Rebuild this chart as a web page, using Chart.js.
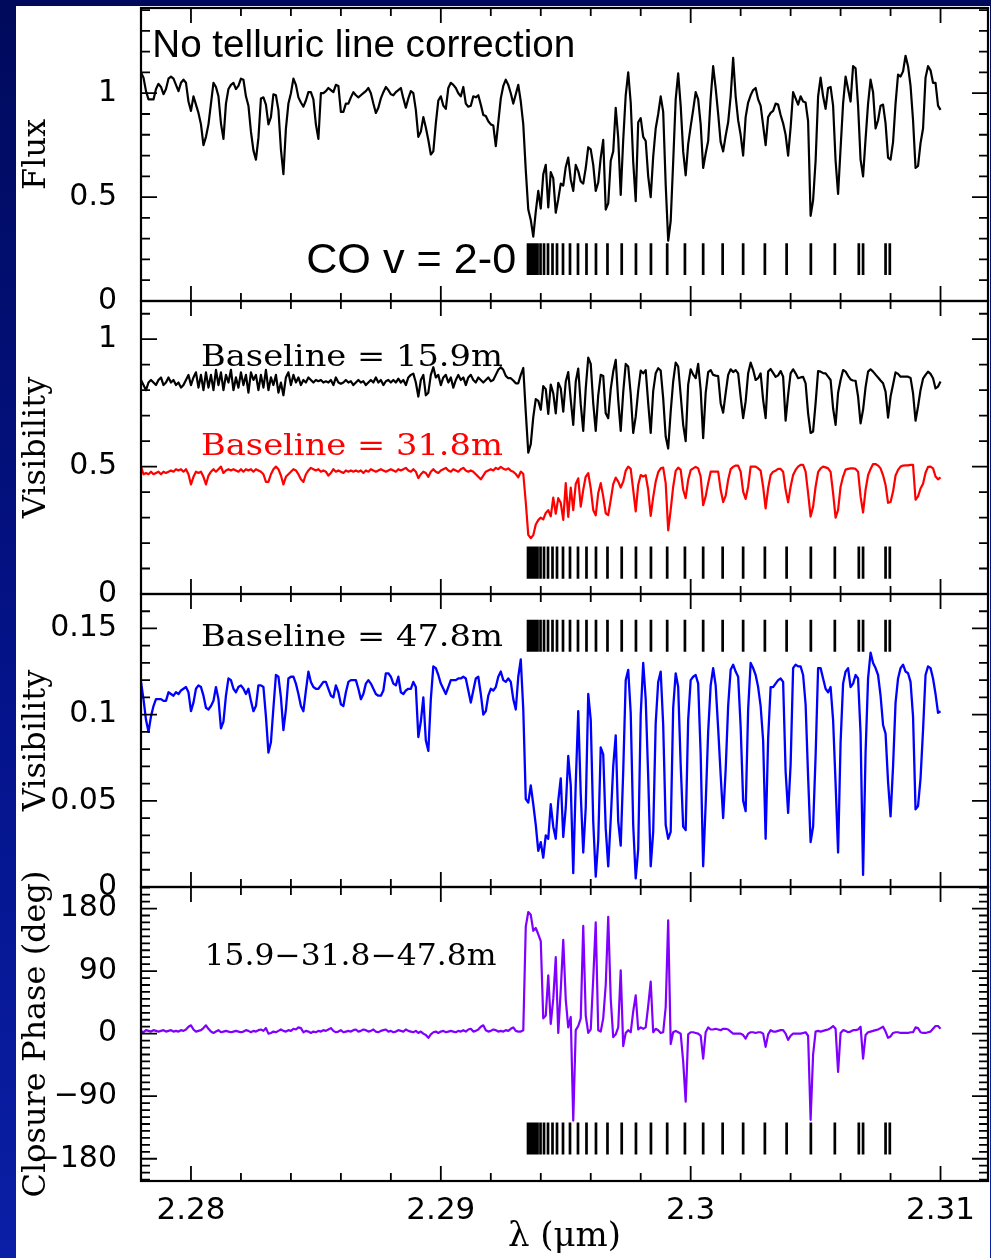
<!DOCTYPE html>
<html>
<head>
<meta charset="utf-8">
<script src="https://cdn.jsdelivr.net/npm/chart.js@4.4.0/dist/chart.umd.min.js"></script>
<style>
html,body{margin:0;padding:0;}
body{width:991px;height:1258px;overflow:hidden;position:relative;background:linear-gradient(180deg,#000a5c 0%,#04138a 55%,#0a1fa6 100%);}
#paper{position:absolute;left:16px;top:6px;width:974px;height:1252px;background:#ffffff;}
canvas{position:absolute;left:16px;top:6px;}
</style>
</head>
<body>
<div id="paper"></div>
<canvas id="c1" width="974" height="1252"></canvas>
<canvas id="c2" width="974" height="1252"></canvas>
<canvas id="c3" width="974" height="1252"></canvas>
<canvas id="c4" width="974" height="1252"></canvas>
<script>
// ---------------- data ----------------
const wavelengths = [
2.2780,2.2781,2.2782,2.2783,2.2784,2.2785,2.2786,2.2787,2.2788,2.2789,
2.2790,2.2791,2.2792,2.2793,2.2794,2.2795,2.2796,2.2797,2.2798,2.2799,
2.2800,2.2801,2.2802,2.2803,2.2804,2.2805,2.2806,2.2807,2.2808,2.2809,
2.2810,2.2811,2.2812,2.2813,2.2814,2.2815,2.2816,2.2817,2.2818,2.2819,
2.2820,2.2821,2.2822,2.2823,2.2824,2.2825,2.2826,2.2827,2.2828,2.2829,
2.2830,2.2831,2.2832,2.2833,2.2834,2.2835,2.2836,2.2837,2.2838,2.2839,
2.2840,2.2841,2.2842,2.2843,2.2844,2.2845,2.2846,2.2847,2.2848,2.2849,
2.2850,2.2851,2.2852,2.2853,2.2854,2.2855,2.2856,2.2857,2.2858,2.2859,
2.2860,2.2861,2.2862,2.2863,2.2864,2.2865,2.2866,2.2867,2.2868,2.2869,
2.2870,2.2871,2.2872,2.2873,2.2874,2.2875,2.2876,2.2877,2.2878,2.2879,
2.2880,2.2881,2.2882,2.2883,2.2884,2.2885,2.2886,2.2887,2.2888,2.2889,
2.2890,2.2891,2.2892,2.2893,2.2894,2.2895,2.2896,2.2897,2.2898,2.2899,
2.2900,2.2901,2.2902,2.2903,2.2904,2.2905,2.2906,2.2907,2.2908,2.2909,
2.2910,2.2911,2.2912,2.2913,2.2914,2.2915,2.2916,2.2917,2.2918,2.2919,
2.2920,2.2921,2.2922,2.2923,2.2924,2.2925,2.2926,2.2927,2.2928,2.2929,
2.2930,2.2931,2.2932,2.2933,2.2934,2.2935,2.2936,2.2937,2.2938,2.2939,
2.2940,2.2941,2.2942,2.2943,2.2944,2.2945,2.2946,2.2947,2.2948,2.2949,
2.2950,2.2951,2.2952,2.2953,2.2954,2.2955,2.2956,2.2957,2.2958,2.2959,
2.2960,2.2961,2.2962,2.2963,2.2964,2.2965,2.2966,2.2967,2.2968,2.2969,
2.2970,2.2971,2.2972,2.2973,2.2974,2.2975,2.2976,2.2977,2.2978,2.2979,
2.2980,2.2981,2.2982,2.2983,2.2984,2.2985,2.2986,2.2987,2.2988,2.2989,
2.2990,2.2991,2.2992,2.2993,2.2994,2.2995,2.2996,2.2997,2.2998,2.2999,
2.3000,2.3001,2.3002,2.3003,2.3004,2.3005,2.3006,2.3007,2.3008,2.3009,
2.3010,2.3011,2.3012,2.3013,2.3014,2.3015,2.3016,2.3017,2.3018,2.3019,
2.3020,2.3021,2.3022,2.3023,2.3024,2.3025,2.3026,2.3027,2.3028,2.3029,
2.3030,2.3031,2.3032,2.3033,2.3034,2.3035,2.3036,2.3037,2.3038,2.3039,
2.3040,2.3041,2.3042,2.3043,2.3044,2.3045,2.3046,2.3047,2.3048,2.3049,
2.3050,2.3051,2.3052,2.3053,2.3054,2.3055,2.3056,2.3057,2.3058,2.3059,
2.3060,2.3061,2.3062,2.3063,2.3064,2.3065,2.3066,2.3067,2.3068,2.3069,
2.3070,2.3071,2.3072,2.3073,2.3074,2.3075,2.3076,2.3077,2.3078,2.3079,
2.3080,2.3081,2.3082,2.3083,2.3084,2.3085,2.3086,2.3087,2.3088,2.3089,
2.3090,2.3091,2.3092,2.3093,2.3094,2.3095,2.3096,2.3097,2.3098,2.3099,
2.3100];

const flux = [
1.10,1.075,1.01,0.97,0.97,0.97,1.02,1.045,1.03,0.995,
1.02,1.07,1.08,1.07,1.04,1.01,1.05,1.065,1.05,0.96,
0.915,0.985,0.945,0.905,0.85,0.75,0.79,0.85,0.95,1.05,
1.03,0.985,0.855,0.78,0.95,1.02,1.04,1.05,1.02,1.035,
1.07,1.065,0.985,0.94,0.815,0.725,0.68,0.785,0.975,0.98,
0.945,0.85,0.885,0.995,0.99,0.92,0.73,0.61,0.83,0.95,
1.0,1.07,1.04,0.98,0.955,0.935,0.965,1.005,1.005,0.97,
0.85,0.78,1.0,1.0,1.01,1.025,1.015,1.005,1.04,1.035,
0.91,0.91,0.95,0.95,0.98,1.005,0.99,0.98,0.99,1.0,
1.01,1.025,1.0,0.95,0.905,0.93,0.975,1.005,1.03,1.015,
0.995,0.99,1.005,1.015,1.025,0.975,0.93,0.975,1.01,1.0,
0.92,0.79,0.815,0.885,0.835,0.775,0.705,0.72,0.855,0.965,
0.985,0.94,0.925,1.025,1.05,1.04,1.025,1.0,0.985,1.03,
0.95,0.935,0.94,0.985,0.98,0.99,0.945,0.895,0.89,0.865,
0.85,0.845,0.745,0.86,0.975,1.035,1.065,1.04,1.0,0.95,
0.995,1.04,0.96,0.85,0.63,0.44,0.39,0.31,0.43,0.53,
0.445,0.61,0.655,0.45,0.62,0.59,0.425,0.49,0.565,0.555,
0.645,0.69,0.585,0.53,0.655,0.625,0.575,0.565,0.64,0.74,
0.73,0.655,0.53,0.57,0.69,0.775,0.44,0.47,0.675,0.72,
0.93,0.785,0.51,0.775,0.99,1.10,0.955,0.67,0.48,0.86,
0.88,0.79,0.77,0.60,0.50,0.695,0.83,0.90,0.985,0.91,
0.56,0.29,0.385,0.67,0.97,1.095,0.94,0.72,0.605,0.755,
0.84,0.92,1.005,0.97,0.85,0.64,0.71,0.77,0.975,1.13,
1.025,0.90,0.765,0.72,0.795,0.86,0.985,1.17,0.985,0.87,
0.80,0.70,0.885,0.955,0.99,1.015,1.025,0.97,0.94,0.845,
0.75,0.885,0.905,0.915,0.95,0.945,0.895,0.855,0.80,0.70,
0.835,1.005,0.975,0.945,0.985,0.96,0.955,0.865,0.41,0.485,
0.675,0.985,1.075,0.985,0.925,1.025,1.03,0.94,0.675,0.515,
0.735,0.95,1.08,1.02,0.96,1.13,1.12,0.94,0.68,0.60,
0.78,0.95,1.065,1.005,0.83,0.87,0.94,0.945,0.855,0.69,
0.68,0.765,0.95,1.09,1.08,1.105,1.18,1.13,1.035,0.87,
0.64,0.65,0.76,0.83,1.075,1.13,1.11,1.05,1.05,0.94,
0.92];

const vis159 = [
0.84,0.82,0.80,0.83,0.84,0.83,0.82,0.84,0.85,0.82,
0.83,0.85,0.83,0.84,0.82,0.83,0.81,0.82,0.84,0.86,
0.82,0.85,0.87,0.81,0.86,0.80,0.87,0.81,0.86,0.80,
0.88,0.82,0.87,0.80,0.86,0.83,0.88,0.80,0.85,0.81,
0.87,0.82,0.86,0.79,0.87,0.84,0.86,0.80,0.86,0.81,
0.88,0.80,0.85,0.82,0.86,0.79,0.83,0.78,0.85,0.87,
0.82,0.86,0.83,0.85,0.82,0.84,0.83,0.85,0.84,0.83,
0.84,0.835,0.84,0.83,0.835,0.83,0.84,0.82,0.85,0.83,
0.825,0.83,0.84,0.83,0.835,0.82,0.83,0.84,0.83,0.835,
0.82,0.83,0.84,0.83,0.85,0.83,0.84,0.82,0.835,0.84,
0.83,0.84,0.83,0.845,0.83,0.84,0.82,0.85,0.86,0.865,
0.83,0.775,0.84,0.86,0.78,0.79,0.86,0.89,0.85,0.86,
0.82,0.85,0.86,0.83,0.85,0.81,0.84,0.86,0.84,0.85,
0.82,0.85,0.86,0.84,0.83,0.85,0.84,0.83,0.84,0.85,
0.835,0.84,0.86,0.88,0.89,0.88,0.856,0.847,0.847,0.838,
0.827,0.827,0.86,0.887,0.714,0.555,0.588,0.694,0.765,0.758,
0.723,0.816,0.804,0.707,0.822,0.788,0.709,0.829,0.807,0.716,
0.834,0.871,0.762,0.664,0.834,0.885,0.745,0.64,0.807,0.928,
0.903,0.749,0.64,0.78,0.86,0.856,0.709,0.69,0.804,0.873,
0.919,0.762,0.64,0.792,0.903,0.893,0.785,0.632,0.696,0.798,
0.877,0.866,0.879,0.749,0.632,0.796,0.866,0.886,0.877,0.768,
0.618,0.571,0.716,0.834,0.908,0.893,0.781,0.664,0.60,0.822,
0.882,0.861,0.847,0.903,0.801,0.612,0.788,0.871,0.879,0.86,
0.857,0.855,0.749,0.712,0.788,0.86,0.882,0.871,0.879,0.866,
0.775,0.69,0.756,0.866,0.908,0.88,0.84,0.847,0.866,0.762,
0.69,0.873,0.883,0.868,0.852,0.858,0.875,0.853,0.68,0.781,
0.866,0.882,0.866,0.847,0.85,0.852,0.827,0.709,0.632,0.638,
0.749,0.875,0.873,0.867,0.866,0.853,0.84,0.729,0.664,0.79,
0.84,0.879,0.873,0.856,0.842,0.838,0.837,0.775,0.67,0.723,
0.812,0.873,0.882,0.873,0.861,0.85,0.838,0.827,0.794,0.692,
0.775,0.822,0.87,0.864,0.853,0.853,0.853,0.853,0.848,0.788,
0.68,0.736,0.801,0.845,0.86,0.873,0.864,0.847,0.807,0.814,
0.834];

const vis318 = [
0.50,0.47,0.475,0.47,0.48,0.47,0.475,0.48,0.47,0.48,
0.475,0.48,0.485,0.48,0.49,0.485,0.49,0.48,0.49,0.47,
0.43,0.46,0.48,0.475,0.48,0.46,0.43,0.465,0.48,0.49,
0.48,0.49,0.50,0.475,0.485,0.49,0.485,0.49,0.485,0.48,
0.49,0.48,0.49,0.485,0.49,0.48,0.49,0.485,0.48,0.47,
0.44,0.44,0.47,0.49,0.50,0.49,0.465,0.43,0.46,0.47,
0.48,0.49,0.485,0.47,0.45,0.44,0.47,0.485,0.495,0.49,
0.485,0.49,0.48,0.485,0.48,0.465,0.475,0.49,0.48,0.485,
0.48,0.475,0.485,0.48,0.485,0.48,0.485,0.48,0.485,0.475,
0.485,0.48,0.49,0.485,0.48,0.485,0.49,0.485,0.48,0.485,
0.49,0.485,0.48,0.49,0.485,0.49,0.495,0.485,0.48,0.49,
0.48,0.455,0.47,0.48,0.475,0.46,0.48,0.49,0.48,0.475,
0.485,0.49,0.495,0.485,0.48,0.49,0.485,0.48,0.49,0.495,
0.485,0.48,0.485,0.48,0.47,0.46,0.45,0.465,0.48,0.485,
0.49,0.485,0.495,0.49,0.499,0.492,0.488,0.493,0.484,0.48,
0.471,0.458,0.48,0.472,0.36,0.232,0.219,0.231,0.273,0.29,
0.30,0.293,0.318,0.329,0.305,0.378,0.315,0.376,0.358,0.291,
0.435,0.303,0.418,0.329,0.432,0.454,0.343,0.409,0.461,0.474,
0.415,0.33,0.309,0.396,0.435,0.383,0.317,0.31,0.369,0.431,
0.457,0.441,0.418,0.441,0.484,0.50,0.491,0.409,0.324,0.428,
0.467,0.461,0.466,0.409,0.307,0.38,0.441,0.478,0.493,0.496,
0.435,0.25,0.33,0.421,0.483,0.496,0.487,0.409,0.376,0.448,
0.486,0.493,0.499,0.493,0.461,0.349,0.383,0.435,0.48,0.48,
0.48,0.48,0.409,0.361,0.385,0.448,0.49,0.499,0.504,0.504,
0.48,0.402,0.373,0.421,0.50,0.50,0.50,0.493,0.484,0.421,
0.336,0.415,0.467,0.48,0.484,0.491,0.491,0.48,0.409,0.36,
0.421,0.467,0.487,0.50,0.507,0.507,0.48,0.396,0.304,0.343,
0.421,0.478,0.493,0.50,0.497,0.493,0.479,0.396,0.30,0.33,
0.421,0.461,0.488,0.491,0.493,0.493,0.491,0.48,0.383,0.32,
0.409,0.466,0.491,0.51,0.51,0.504,0.493,0.466,0.428,0.358,
0.361,0.402,0.465,0.487,0.50,0.504,0.505,0.505,0.507,0.507,
0.37,0.383,0.414,0.433,0.476,0.499,0.50,0.493,0.461,0.45,
0.458];

const vis478 = [
0.119,0.109,0.097,0.090,0.099,0.105,0.109,0.109,0.109,0.108,
0.108,0.113,0.112,0.111,0.113,0.112,0.114,0.115,0.116,0.113,
0.102,0.107,0.115,0.117,0.116,0.111,0.104,0.103,0.105,0.108,
0.116,0.109,0.092,0.096,0.111,0.121,0.120,0.115,0.113,0.116,
0.117,0.115,0.112,0.115,0.108,0.102,0.105,0.117,0.117,0.116,
0.099,0.078,0.084,0.104,0.123,0.122,0.110,0.091,0.103,0.121,
0.122,0.122,0.118,0.112,0.105,0.102,0.114,0.125,0.119,0.116,
0.115,0.115,0.117,0.119,0.119,0.115,0.111,0.110,0.117,0.113,
0.106,0.105,0.113,0.119,0.120,0.120,0.120,0.115,0.109,0.112,
0.118,0.120,0.118,0.115,0.112,0.111,0.111,0.114,0.124,0.124,
0.122,0.118,0.117,0.122,0.113,0.112,0.114,0.115,0.115,0.119,
0.116,0.087,0.096,0.110,0.085,0.079,0.109,0.128,0.127,0.123,
0.118,0.115,0.112,0.116,0.120,0.120,0.120,0.121,0.121,0.122,
0.121,0.114,0.107,0.114,0.121,0.122,0.112,0.100,0.102,0.111,
0.115,0.114,0.116,0.122,0.125,0.120,0.119,0.121,0.119,0.109,
0.103,0.122,0.132,0.103,0.051,0.049,0.059,0.048,0.036,0.021,
0.026,0.017,0.030,0.028,0.048,0.035,0.028,0.050,0.063,0.029,
0.046,0.076,0.059,0.008,0.060,0.102,0.054,0.020,0.046,0.112,
0.097,0.038,0.006,0.027,0.081,0.077,0.034,0.012,0.039,0.070,
0.088,0.038,0.024,0.067,0.120,0.126,0.101,0.036,0.005,0.022,
0.100,0.130,0.109,0.064,0.012,0.032,0.095,0.119,0.125,0.094,
0.036,0.028,0.032,0.104,0.124,0.116,0.071,0.035,0.033,0.097,
0.120,0.122,0.123,0.118,0.077,0.012,0.048,0.090,0.117,0.127,
0.117,0.092,0.065,0.040,0.068,0.105,0.126,0.129,0.125,0.122,
0.093,0.050,0.044,0.103,0.130,0.127,0.123,0.116,0.105,0.085,
0.028,0.086,0.116,0.116,0.118,0.120,0.121,0.119,0.067,0.043,
0.071,0.127,0.129,0.128,0.128,0.123,0.106,0.064,0.026,0.035,
0.076,0.127,0.127,0.121,0.115,0.113,0.116,0.097,0.060,0.020,
0.084,0.118,0.125,0.127,0.116,0.118,0.123,0.121,0.089,0.007,
0.078,0.121,0.136,0.130,0.127,0.123,0.111,0.094,0.089,0.061,
0.041,0.070,0.107,0.121,0.127,0.129,0.125,0.124,0.119,0.099,
0.045,0.047,0.063,0.091,0.123,0.128,0.127,0.121,0.112,0.101,
0.102];

const closurePhase = [
4,2,5,4,3,5,4,3,4,5,
3,4,5,3,4,3,5,4,6,10,
12,6,3,4,5,8,12,7,3,1,
3,5,2,3,4,3,2,3,4,3,
2,3,5,4,2,4,3,5,6,4,
8,0,1,3,2,4,6,4,3,5,
4,7,6,9,8,2,4,3,1,3,
2,4,3,5,4,6,8,4,2,3,
5,2,3,4,3,5,6,3,4,6,
5,3,4,6,3,2,4,5,6,3,
4,2,3,5,4,3,6,4,3,2,
4,1,3,0,-2,-6,-1,2,3,1,
3,4,2,3,4,3,2,4,3,5,
3,6,7,3,4,6,10,12,5,3,
4,6,5,3,4,3,5,4,7,9,
4,3,3,5,154,175,171,148,152,143,
133,22,26,84,14,50,110,1,63,135,
49,9,24,-125,5,11,22,155,26,1,
6,79,160,5,3,22,70,168,50,-5,
-1,9,91,-18,1,5,2,32,55,6,
9,7,9,40,75,2,7,5,1,2,
38,163,-15,2,4,2,0,-40,-98,-1,
2,2,1,0,-3,-36,2,9,6,6,
7,6,5,7,7,6,3,0,0,0,
0,-2,-7,0,2,2,1,2,2,0,
-19,-1,5,3,3,4,5,5,0,-9,
-3,0,0,0,0,1,2,-3,-124,-30,
3,4,3,4,5,6,8,11,7,-55,
1,5,4,2,3,5,5,6,10,-36,
-2,2,3,4,5,6,8,10,3,-6,
-4,1,2,2,1,1,1,1,2,2,
9,8,2,1,1,2,3,7,11,11,
7];

// CO v=2-0 line positions (micron)
const coLines = [2.29349,2.29355,2.29361,2.29369,2.29377,2.29387,2.29399,2.29413,2.29429,2.29447,
2.29465,2.29489,2.29517,2.29549,2.29583,2.29621,2.29667,2.29724,2.29781,2.29841,
2.29906,2.29977,2.30050,2.30128,2.30210,2.30297,2.30384,2.30481,2.30577,2.30673,
2.30690,2.30780,2.30797];
// vertical extent of the line markers in each panel (data units)
const fluxMarks = [0.125, 0.278];
const visMarks = [0.06, 0.186];
const vis3Marks = [0.1365, 0.155];
const cpMarks = [-174, -128];

// axis ticks
const xMajor = [2.28, 2.29, 2.30, 2.31];
const xLabels = ['2.28', '2.29', '2.3', '2.31'];
const xMinor = [2.282,2.284,2.286,2.288,2.292,2.294,2.296,2.298,2.302,2.304,2.306,2.308];
const fluxTicks = [0, 0.5, 1];
const fluxTickLabels = ['0', '0.5', '1'];
const visTicks = [0, 0.5, 1];
const visTickLabels = ['0', '0.5', '1'];
const vis3Ticks = [0, 0.05, 0.1, 0.15];
const vis3TickLabels = ['0', '0.05', '0.1', '0.15'];
const cpTicks = [-180, -90, 0, 90, 180];
const cpTickLabels = ['\u2212180', '\u221290', '0', '90', '180'];

// ---------------- layout ----------------
const OX = 16, OY = 6, CW = 974, CH = 1252;
const X_MIN = 2.278, X_MAX = 2.3119;

function minorTicks(lo, hi, step, major) {
  const out = [];
  const n = Math.round((hi - lo) / step);
  for (let k = 0; k <= n; k++) {
    const v = +(lo + k * step).toFixed(6);
    if (!major.some(m => Math.abs(m - v) < step / 100)) out.push(v);
  }
  return out;
}
function series(ys) { return wavelengths.map((w, i) => ({x: w, y: ys[i]})); }
function marks(r) {
  const d = [];
  coLines.forEach(w => { d.push({x: w, y: r[0]}, {x: w, y: r[1]}, {x: w, y: null}); });
  return d;
}
function lineDS(data, color, width) {
  return {data, borderColor: color, borderWidth: width, pointRadius: 0, tension: 0, fill: false, spanGaps: false, borderJoinStyle: 'round'};
}
function markDS(r) {
  return {data: marks(r), borderColor: '#000', borderWidth: 2.7, pointRadius: 0, spanGaps: false, borderCapStyle: 'butt'};
}

const serif = '"DejaVu Serif", serif';
const panels = [
  {id: 'c1', top: 8, bottom: 301, min: 0, max: 1.41, major: fluxTicks, labels: fluxTickLabels,
   minor: minorTicks(0, 1.4, 0.1, fluxTicks), title: 'Flux',
   datasets: [lineDS(series(flux), '#000', 2.2), markDS(fluxMarks)],
   notes: [
     {text: 'No telluric line correction', x: 2.27845, y: 1.175, font: '38px "Liberation Sans"', color: '#000', width: 423},
     {text: 'CO v = 2-0', x: 2.28461, y: 0.135, font: '42px "Liberation Sans"', color: '#000', width: 210}
   ]},
  {id: 'c2', top: 301, bottom: 594, min: 0, max: 1.15, major: visTicks, labels: visTickLabels,
   minor: minorTicks(0, 1.1, 0.1, visTicks), title: 'Visibility',
   datasets: [lineDS(series(vis159), '#000', 2.2), lineDS(series(vis318), '#ff0000', 2.2), markDS(visMarks)],
   notes: [
     {text: 'Baseline = 15.9m', x: 2.2804, y: 0.895, font: '29px ' + serif, color: '#000', width: 302},
     {text: 'Baseline = 31.8m', x: 2.2804, y: 0.546, font: '29px ' + serif, color: '#ff0000', width: 302}
   ]},
  {id: 'c3', top: 594, bottom: 887, min: 0, max: 0.17, major: vis3Ticks, labels: vis3TickLabels,
   minor: minorTicks(0, 0.17, 0.01, vis3Ticks), title: 'Visibility',
   datasets: [lineDS(series(vis478), '#0000ff', 2.3), markDS(vis3Marks)],
   notes: [
     {text: 'Baseline = 47.8m', x: 2.2804, y: 0.1397, font: '29px ' + serif, color: '#000', width: 302}
   ]},
  {id: 'c4', top: 887, bottom: 1181, min: -212, max: 211, major: cpTicks, labels: cpTickLabels,
   minor: minorTicks(-210, 210, 10, cpTicks), title: 'Closure Phase (deg)', showX: true,
   datasets: [lineDS(series(closurePhase), '#8000ff', 2.2), markDS(cpMarks)],
   notes: [
     {text: '15.9\u221231.8\u221247.8m', x: 2.28054, y: 98.4, font: '29px ' + serif, color: '#000', width: 292}
   ]}
];

function framePlugin(p) {
  return {
    id: 'frame_' + p.id,
    afterDatasetsDraw(chart) {
      const {ctx, chartArea: a} = chart;
      const xs = chart.scales.x, ys = chart.scales.y;
      ctx.save();
      ctx.strokeStyle = '#000';
      ctx.lineWidth = 1.8;
      ctx.beginPath();
      const xt = (v, L) => { const px = xs.getPixelForValue(v); ctx.moveTo(px, a.top); ctx.lineTo(px, a.top + L); ctx.moveTo(px, a.bottom); ctx.lineTo(px, a.bottom - L); };
      xMajor.forEach(v => xt(v, 15));
      xMinor.forEach(v => xt(v, 8));
      const yt = (v, L) => { const py = ys.getPixelForValue(v); ctx.moveTo(a.left, py); ctx.lineTo(a.left + L, py); ctx.moveTo(a.right, py); ctx.lineTo(a.right - L, py); };
      p.major.forEach(v => yt(v, 16));
      p.minor.forEach(v => yt(v, 9));
      ctx.stroke();
      ctx.lineWidth = 2.2;
      ctx.strokeRect(a.left, a.top, a.right - a.left, a.bottom - a.top);
      p.notes.forEach(n => {
        ctx.save();
        ctx.font = n.font;
        ctx.fillStyle = n.color;
        ctx.textBaseline = 'alphabetic';
        ctx.textAlign = 'left';
        const w = ctx.measureText(n.text).width;
        ctx.translate(xs.getPixelForValue(n.x), ys.getPixelForValue(n.y));
        ctx.scale(n.width / w, 1);
        ctx.fillText(n.text, 0, 0);
        ctx.restore();
      });
      ctx.restore();
    }
  };
}

panels.forEach(p => {
  const showX = !!p.showX;
  new Chart(document.getElementById(p.id), {
    type: 'line',
    data: {datasets: p.datasets},
    options: {
      responsive: false,
      animation: false,
      devicePixelRatio: 1,
      layout: {padding: {left: 0, right: 2, top: p.top - OY, bottom: showX ? 0 : (OY + CH - p.bottom)}},
      plugins: {legend: {display: false}, tooltip: {enabled: false}},
      scales: {
        x: {
          type: 'linear', min: X_MIN, max: X_MAX, display: showX,
          grid: {display: false, drawTicks: false}, border: {display: false},
          afterBuildTicks: s => { s.ticks = xMajor.map(v => ({value: v})); },
          ticks: {callback: (v, i) => xLabels[i], font: {family: 'DejaVu Sans', size: 31}, color: '#000', padding: 11, maxRotation: 0, autoSkip: false},
          title: {display: showX, text: '\u03bb (\u03bcm)', font: {family: 'DejaVu Serif', size: 34}, color: '#000', padding: {top: 0, bottom: 0}},
          afterFit: s => { if (showX) { s.height = OY + CH - p.bottom; s.paddingLeft = 0; s.paddingRight = 0; } }
        },
        y: {
          type: 'linear', min: p.min, max: p.max, position: 'left',
          grid: {display: false, drawTicks: false}, border: {display: false},
          afterBuildTicks: s => { s.ticks = p.major.map(v => ({value: v})); },
          ticks: {callback: (v, i) => p.labels[i], font: {family: 'DejaVu Sans', size: 30}, color: '#000', padding: 24, autoSkip: false},
          title: {display: true, text: p.title, font: {family: 'DejaVu Serif', size: 32}, color: '#000', padding: {top: 1, bottom: 0}},
          afterFit: s => { s.width = 125; s.paddingTop = 0; s.paddingBottom = 0; }
        }
      }
    },
    plugins: [framePlugin(p)]
  });
});
</script>
</body>
</html>
